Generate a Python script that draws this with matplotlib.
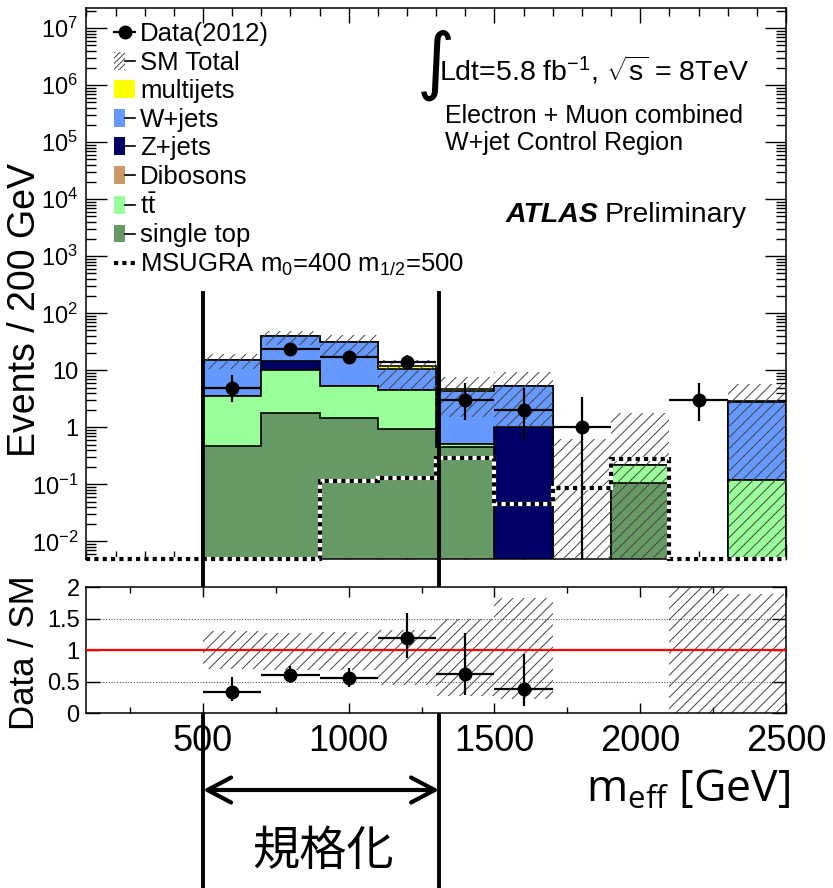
import numpy as np
import matplotlib
matplotlib.use("Agg")
import matplotlib.pyplot as plt
import matplotlib.transforms as mtransforms
from matplotlib.patches import Patch
from matplotlib.lines import Line2D
from matplotlib.legend_handler import HandlerTuple
from matplotlib.ticker import MultipleLocator, LogLocator, FuncFormatter, NullFormatter

plt.rcParams['font.family'] = ['Liberation Sans', 'DejaVu Sans']
plt.rcParams['mathtext.fontset'] = 'custom'
plt.rcParams['mathtext.rm'] = 'Liberation Sans'
plt.rcParams['mathtext.it'] = 'Liberation Sans:italic'
plt.rcParams['mathtext.bf'] = 'Liberation Sans:bold'
plt.rcParams['mathtext.sf'] = 'Open Sans'
plt.rcParams['mathtext.default'] = 'regular'
plt.rcParams['hatch.linewidth'] = 0.7
plt.rcParams['axes.linewidth'] = 1.1

# m_eff binning, 200 GeV per bin
edges = np.arange(100, 2501, 200)
centers = 0.5 * (edges[1:] + edges[:-1])

# background yields per bin (stack order: bottom -> top)
single_top = np.array([0, 0, 0.48, 1.78, 1.48, 0.92, 0.45, 0, 0, 0.107, 0, 0])
ttbar      = np.array([0, 0, 3.12, 8.22, 3.82, 3.68, 0.07, 0, 0, 0.113, 0, 0.12])
dibosons   = np.array([0, 0, 0, 0, 0, 0, 0, 0, 0, 0, 0, 0])
zjets      = np.array([0, 0, 0, 4.5, 0, 0, 0, 1.0, 0, 0, 0, 0])
wjets      = np.array([0, 0, 11.3, 25.3, 25.7, 5.8, 3.78, 4.3, 0, 0, 0, 2.65])
multijets  = np.array([0, 0, 0, 0, 0, 1.4, 0.5, 0, 0, 0, 0, 0.13])

# signal point
msugra = np.array([0, 0, 0, 0, 0.115, 0.13, 0.29, 0.045, 0.088, 0.275, 0, 0])

# observed events with asymmetric errors
data    = np.array([0, 0, 5, 24, 17, 14, 3, 2, 1, 0, 3, 0])
data_up = np.array([0, 0, 3.4, 6.0, 5.2, 4.8, 3.06, 2.95, 2.4, 0, 3.06, 0])
data_dn = np.array([0, 0, 2.2, 4.9, 4.1, 3.7, 1.66, 1.38, 0.999, 0, 1.7, 0])

# SM total uncertainty band (events) and ratio band
band_hi = np.array([np.nan, np.nan, 19.5, 48.5, 42, 15.5, 7.5, 9.5, 0.62, 1.8, np.nan, 5.66])
band_lo = np.array([np.nan, np.nan, 10.5, 28, 18, 4.6, 1.5, 1.0, 0, 0, np.nan, 0])
ratio_hi = np.array([np.nan, np.nan, 1.30, 1.27, 1.28, 1.31, 1.5, 1.83, np.nan, np.nan, 2.5, 1.89])
ratio_lo = np.array([np.nan, np.nan, 0.70, 0.69, 0.69, 0.44, 0.27, 0.23, np.nan, np.nan, 0, 0])

labels = ['single top', r'$\mathrm{t\bar{t}}$', 'Dibosons', 'Z+jets', 'W+jets', 'multijets']
colors = ['#669966', '#99ff99', '#cc9966', '#000066', '#6699ff', '#ffff00']
hatch_col = '#444444'

ymin, ymax = 4.93e-3, 2.3e7
floor = 1e-4

fig = plt.figure(figsize=(8.33, 8.88), dpi=100)
ax = fig.add_axes([0.1038, 0.3705, 0.8397, 0.62105])
ax2 = fig.add_axes([0.1038, 0.19707, 0.8397, 0.14189])

ax.set_yscale('log')
ax.set_xlim(100, 2500)
ax.set_ylim(ymin, ymax)

# stacked backgrounds, drawn as cumulative histograms from the top down
cum = np.cumsum([single_top, ttbar, dibosons, zjets, wjets, multijets], axis=0)
for i in reversed(range(len(cum))):
    top = np.where(cum[i] > 0, cum[i], floor)
    ax.stairs(top, edges, baseline=floor, fill=True, facecolor=colors[i], edgecolor='none', zorder=2)
    ax.stairs(top, edges, baseline=floor, fill=False, color='k', lw=1.2, zorder=2)
sm_total = cum[-1]

# SM uncertainty hatch
bm = ~np.isnan(band_hi)
lo = np.where(band_lo[bm] > 0, band_lo[bm], floor)
ax.bar(centers[bm], band_hi[bm] - lo, bottom=lo, width=200, fill=False,
       hatch='///', edgecolor=hatch_col, linewidth=0, zorder=3)

# MSUGRA m0=400 m1/2=500
ms_vals = np.where(msugra > 0, msugra, ymin)
ax.stairs(ms_vals, edges, baseline=None, color='white', lw=3.0, clip_on=False, zorder=4)
ax.stairs(ms_vals, edges, baseline=None, color='k', lw=3.0, ls=(0, (1, 1)), clip_on=False, zorder=4)

# data
m = data > 0
ax.errorbar(centers[m], data[m], xerr=100, yerr=[data_dn[m], data_up[m]], fmt='o',
            color='k', ms=9, elinewidth=1.6, capsize=0, zorder=5)

def log_label(v, pos):
    if np.isclose(v, 1):
        return '1'
    if np.isclose(v, 10):
        return '10'
    return r'$10^{%d}$' % round(np.log10(v))

ax.yaxis.set_major_locator(LogLocator(base=10, numticks=20))
ax.yaxis.set_minor_locator(LogLocator(base=10, subs=np.arange(2, 10), numticks=20))
ax.yaxis.set_major_formatter(FuncFormatter(log_label))
ax.yaxis.set_minor_formatter(NullFormatter())
ax.xaxis.set_major_locator(MultipleLocator(500))
ax.xaxis.set_minor_locator(MultipleLocator(100))
ax.tick_params(which='both', direction='in', top=True, right=True, labelbottom=False, width=1.0)
ax.tick_params(axis='y', which='major', length=15, labelsize=17, pad=6)
ax.tick_params(axis='y', which='minor', length=7)
ax.tick_params(axis='x', which='major', length=11)
ax.tick_params(axis='x', which='minor', length=6)

# legend
handles = [
    Line2D([], [], marker='o', color='k', ms=9, lw=1.6),
    (Patch(facecolor='none', hatch='//////', edgecolor=hatch_col, lw=0), Line2D([], [], color='k', lw=1.2)),
    Patch(facecolor=colors[5], edgecolor='none'),
    (Patch(facecolor=colors[4], edgecolor='none'), Line2D([], [], color='k', lw=1.2)),
    (Patch(facecolor=colors[3], edgecolor='none'), Line2D([], [], color='k', lw=1.2)),
    (Patch(facecolor=colors[2], edgecolor='none'), Line2D([], [], color='k', lw=1.2)),
    (Patch(facecolor=colors[1], edgecolor='none'), Line2D([], [], color='k', lw=1.2)),
    (Patch(facecolor=colors[0], edgecolor='none'), Line2D([], [], color='k', lw=1.2)),
    Line2D([], [], color='k', lw=3.0, ls=(0, (1, 1))),
]
leg_labels = ['Data(2012)', 'SM Total', 'multijets', 'W+jets', 'Z+jets', 'Dibosons',
              labels[1], 'single top', r'MSUGRA m$_0$=400 m$_{1/2}$=500']
ax.legend(handles, leg_labels, loc='upper left', bbox_to_anchor=(0.04, 0.9735),
          frameon=False, fontsize=18.5, handlelength=0.8, handletextpad=0.2,
          labelspacing=0.175, borderpad=0, borderaxespad=0,
          handler_map={tuple: HandlerTuple(ndivide=None)})

# labels inside the main frame
fig.text(417 / 833, 1 - 86 / 888, u'\u222b', fontsize=53, family='DejaVu Sans', va='baseline')
fig.text(439 / 833, 1 - 80 / 888, r'Ldt=5.8 fb$^{-1}$, $\sqrt{s}$ = 8TeV', fontsize=20.5, va='baseline')
fig.text(445 / 833, 1 - 123 / 888, 'Electron + Muon combined', fontsize=18, va='baseline')
fig.text(445 / 833, 1 - 150 / 888, 'W+jet Control Region', fontsize=18, va='baseline')
fig.text(506 / 833, 1 - 222 / 888, 'ATLAS', fontsize=20.5, fontweight='bold', fontstyle='italic', va='baseline')
fig.text(747 / 833, 1 - 222 / 888, 'Preliminary', fontsize=20.5, ha='right', va='baseline')
fig.text(25 / 833, 1 - 310 / 888, 'Events / 200 GeV', fontsize=27, rotation=90, ha='center', va='center')

# ratio panel
ax2.set_xlim(100, 2500)
ax2.set_ylim(0, 2)
rb = ~np.isnan(ratio_hi)
ax2.bar(centers[rb], ratio_hi[rb] - ratio_lo[rb], bottom=ratio_lo[rb], width=200, fill=False,
        hatch='///', edgecolor=hatch_col, linewidth=0, zorder=2)
for yv in (0.5, 1.5):
    ax2.axhline(yv, color='#555555', lw=0.8, ls=(0, (1, 1.5)), zorder=1)
ax2.axhline(1, color='red', lw=1.6, zorder=3)
rm = m & (sm_total > 0)
ax2.errorbar(centers[rm], data[rm] / sm_total[rm], xerr=100,
             yerr=[data_dn[rm] / sm_total[rm], data_up[rm] / sm_total[rm]],
             fmt='o', color='k', ms=9, elinewidth=1.6, capsize=0, zorder=5)
ax2.set_yticks([0, 0.5, 1, 1.5, 2])
ax2.set_yticklabels(['0', '0.5', '1', '1.5', '2'])
ax2.xaxis.set_major_locator(MultipleLocator(500))
ax2.xaxis.set_minor_locator(MultipleLocator(250))
ax2.tick_params(which='both', direction='in', top=True, right=True, width=1.0)
ax2.tick_params(axis='y', which='major', length=10, labelsize=17, pad=5)
ax2.tick_params(axis='x', which='major', length=7, labelsize=26, pad=8)
ax2.tick_params(axis='x', which='minor', length=4)
fig.text(24 / 833, 1 - 653 / 888, 'Data / SM', fontsize=25, rotation=90, ha='center', va='center')
fig.text(790 / 833, 1 - 802 / 888, r'$\mathsf{m_{eff}}$ [GeV]', fontsize=32,
         family='Open Sans', ha='right', va='baseline')

# normalisation window marked across both panels
win = [500, 1310]
trans = mtransforms.blended_transform_factory(ax.transData, fig.transFigure)
for xv in win:
    ax.plot([xv, xv], [0, 1 - 293 / 888], color='k', lw=2.8, transform=trans, clip_on=False, zorder=10)
ax.annotate('', xy=(win[0], 1 - 790 / 888), xytext=(win[1], 1 - 790 / 888),
            xycoords=('data', 'figure fraction'), textcoords=('data', 'figure fraction'),
            annotation_clip=False,
            arrowprops=dict(arrowstyle='<->,head_length=0.85,head_width=0.45', lw=3,
                            color='k', shrinkA=0, shrinkB=0, mutation_scale=20))
fig.text(323 / 833, 1 - 852 / 888, u'規格化', fontsize=34, family=['Noto Sans CJK JP', 'DejaVu Sans'],
         ha='center', va='center')

fig.savefig('out.png', dpi=100)
